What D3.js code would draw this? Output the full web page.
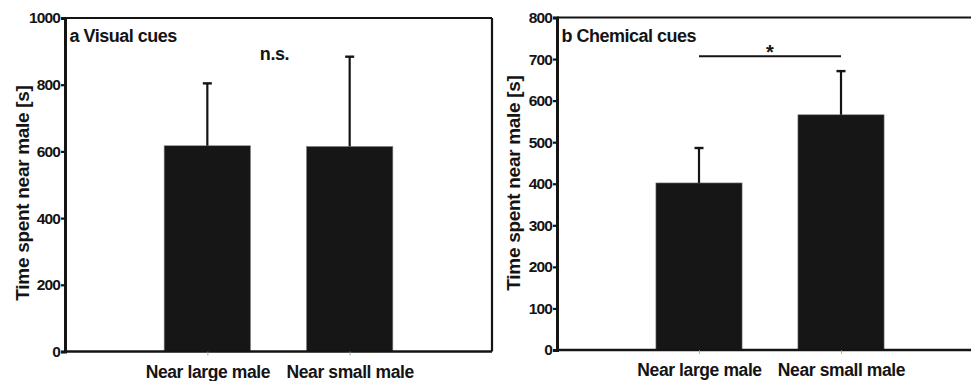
<!DOCTYPE html>
<html><head><meta charset="utf-8">
<script src="https://cdn.jsdelivr.net/npm/d3@7"></script>
<style>
body{margin:0;background:#fff;}
svg{display:block;font-family:"Liberation Sans",Arial,Helvetica,sans-serif;font-weight:bold;}
</style></head>
<body>
<svg id="c" width="971" height="381"></svg>
<script>
const categories = ["Near large male", "Near small male"];
const visualMeans = [617, 615];
const visualErrors = [187, 269];
const chemicalMeans = [402, 566];
const chemicalErrors = [84, 105];
const visualTicks = [0, 200, 400, 600, 800, 1000];
const chemicalTicks = [0, 100, 200, 300, 400, 500, 600, 700, 800];
const panelTitles = ["a Visual cues", "b Chemical cues"];
const yLabel = "Time spent near male [s]";

const svg = d3.select("#c");
const ink = "#141414";
const FF = "Liberation Sans, Arial, sans-serif";

function panel(cfg){
  const g = svg.append("g");
  const x = d3.scalePoint().domain(categories).range([cfg.x0, cfg.x1]).padding(1);
  const y = d3.scaleLinear().domain([0, cfg.max]).range([cfg.yb, cfg.yt]);
  const bw = x.step() * 0.607;

  g.selectAll("rect.bar").data(cfg.means).enter().append("rect")
    .attr("x", (d,i) => x(categories[i]) - bw/2)
    .attr("y", d => y(d))
    .attr("width", bw)
    .attr("height", d => y(0) - y(d))
    .attr("fill", "#161616")
    .attr("stroke", "#8a8a8a").attr("stroke-width", 0.6);

  cfg.means.forEach((m,i) => {
    const cx = x(categories[i]);
    g.append("line").attr("x1", cx).attr("x2", cx)
      .attr("y1", y(m)).attr("y2", y(m + cfg.errs[i]))
      .attr("stroke", ink).attr("stroke-width", 2.2);
    g.append("line").attr("x1", cx - 4.5).attr("x2", cx + 4.5)
      .attr("y1", y(m + cfg.errs[i])).attr("y2", y(m + cfg.errs[i]))
      .attr("stroke", ink).attr("stroke-width", 2.4);
  });

  g.append("line").attr("x1", cfg.x0).attr("x2", cfg.frameRight).attr("y1", cfg.yt).attr("y2", cfg.yt)
    .attr("stroke", ink).attr("stroke-width", 2.2);
  if (cfg.drawRight) {
    g.append("line").attr("x1", cfg.frameRight).attr("x2", cfg.frameRight).attr("y1", cfg.yt).attr("y2", cfg.yb)
      .attr("stroke", ink).attr("stroke-width", 2.2);
  }
  g.append("line").attr("x1", cfg.x0).attr("x2", cfg.frameRight).attr("y1", cfg.yb).attr("y2", cfg.yb)
    .attr("stroke", ink).attr("stroke-width", 2.4);

  const ya = g.append("g").attr("transform", `translate(${cfg.x0},0)`)
    .call(d3.axisLeft(y).tickValues(cfg.ticks).tickSize(4).tickPadding(1).tickFormat(d3.format("d")));
  ya.select(".domain").attr("stroke", ink).attr("stroke-width", 3);
  ya.selectAll(".tick line").attr("stroke", ink).attr("stroke-width", 2.2);
  ya.selectAll(".tick text").attr("fill", ink).style("font-size", "15.5px").style("font-weight", "bold")
    .style("letter-spacing", "-0.9px").style("font-family", FF);

  const xa = g.append("g").attr("transform", `translate(0,${cfg.yb})`)
    .call(d3.axisBottom(x).tickSize(4).tickPadding(10));
  xa.select(".domain").remove();
  xa.selectAll(".tick line").attr("stroke", "#999").attr("stroke-width", 0.8);
  xa.selectAll(".tick text").attr("fill", ink).style("font-size", "17.5px").style("font-weight", "bold")
    .style("letter-spacing", "-0.4px").style("font-family", FF)
    .attr("dy", "0.71em").attr("y", 14);

  g.append("text")
    .attr("transform", `translate(${cfg.labelX},${cfg.labelY}) rotate(-90)`)
    .attr("text-anchor", "middle")
    .attr("fill", ink).style("font-size", "19px").style("letter-spacing", "-0.3px")
    .text(yLabel);

  g.append("text").attr("x", cfg.x0 + 4.5).attr("y", cfg.yt + 24)
    .attr("fill", ink).style("font-size", "18px").style("letter-spacing", "-0.5px")
    .text(cfg.title);

  return {g, x, y};
}

const A = panel({x0:65, x1:492, frameRight:492, drawRight:true, yt:18, yb:351.5, max:1000,
  ticks:visualTicks, means:visualMeans, errs:visualErrors, title:panelTitles[0], labelX:29, labelY:193});
A.g.append("text").attr("x", (A.x(categories[0]) + A.x(categories[1]))/2 - 4).attr("y", 60)
  .attr("text-anchor", "middle").attr("fill", ink).style("font-size", "18px").style("letter-spacing", "-0.4px")
  .text("n.s.");

const B = panel({x0:557, x1:983, frameRight:975, drawRight:false, yt:17.5, yb:350, max:800,
  ticks:chemicalTicks, means:chemicalMeans, errs:chemicalErrors, title:panelTitles[1], labelX:520, labelY:183});
B.g.append("line").attr("x1", B.x(categories[0])).attr("x2", B.x(categories[1]))
  .attr("y1", B.y(707)).attr("y2", B.y(707)).attr("stroke", ink).attr("stroke-width", 2);
B.g.append("text").attr("x", (B.x(categories[0]) + B.x(categories[1]))/2).attr("y", B.y(707) + 3)
  .attr("text-anchor", "middle").attr("fill", ink).style("font-size", "20px")
  .text("*");
</script>
</body></html>
